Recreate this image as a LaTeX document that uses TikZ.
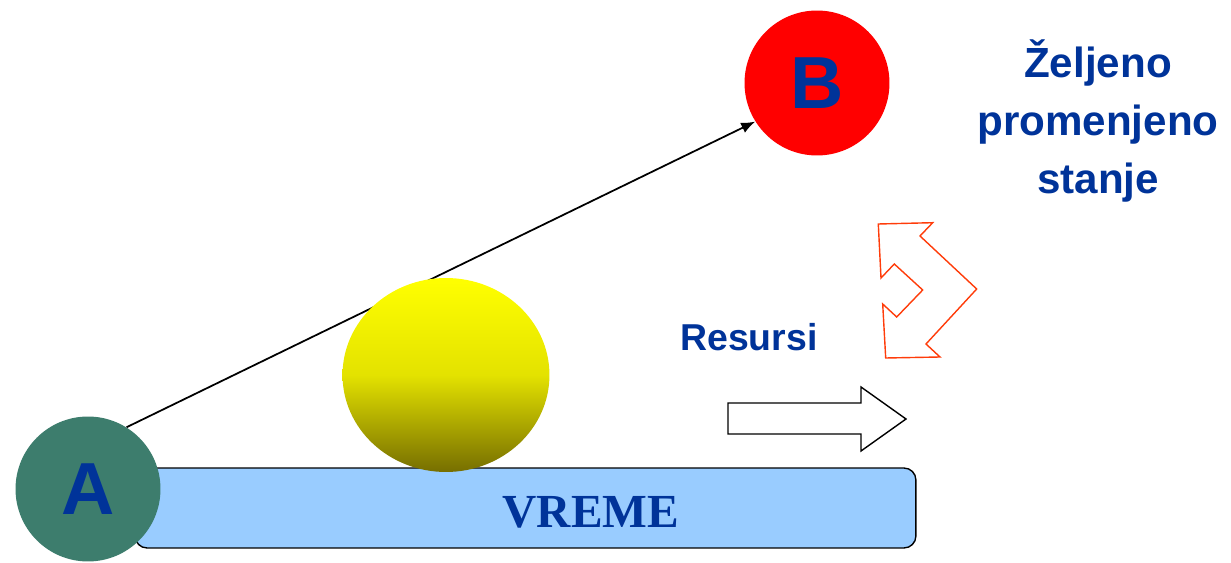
\documentclass[tikz,border=0pt]{standalone}
\usepackage{fontspec}
\setmainfont{Liberation Sans}
\newfontfamily\serifface{Liberation Serif}
\usetikzlibrary{shapes.geometric, arrows.meta}
\definecolor{txtblue}{RGB}{0,51,153}
\definecolor{stategreen}{RGB}{61,125,109}
\definecolor{timeblue}{RGB}{153,204,255}
\definecolor{turnred}{RGB}{255,60,10}
\definecolor{ballolive}{RGB}{118,110,0}
\begin{document}
\begin{tikzpicture}[x=0.02cm, y=-0.02cm]
    \useasboundingbox (0,0) rectangle (1231,563);
    % Time bar
    \node[rectangle, draw=black, fill=timeblue, line width=0.8pt, rounded corners=0.24cm, minimum width=15.62cm, minimum height=1.6cm] (vreme) at (525.5,508) {};
    \node[font=\serifface\bfseries\fontsize{27}{30}\selectfont, text=txtblue] (vremetxt) at (591,512) {VREME};
    
    % States
    \node[circle, fill=stategreen, minimum size=2.9cm, inner sep=0pt, font=\bfseries\fontsize{42}{44}\selectfont, text=txtblue] (A) at (88,489) {A};
    \node[circle, fill=red, minimum size=2.9cm, inner sep=0pt, font=\bfseries\fontsize{42}{44}\selectfont, text=txtblue] (B) at (817,83) {B};
    
    % Path from A to B
    \draw[-{Latex[length=2.8mm, width=2.2mm]}, line width=1pt, black] (A.58) -- (B.212);
    
    % Resources ball
    \node[ellipse, top color=yellow, bottom color=ballolive, middle color={yellow!80!ballolive}, minimum width=4.14cm, minimum height=3.88cm] (ball) at (446,375) {};
    
    % Labels
    \node[font=\bfseries\fontsize{21.3}{24}\selectfont, text=txtblue] (resursi) at (749,337) {Resursi};
    \node[font=\bfseries\fontsize{24}{32.9}\selectfont, text=txtblue, align=center] (stanje) at (1098,121) {Željeno\\promenjeno\\stanje};
    
    % Block arrows
    \draw[black, line width=0.8pt] (728,403) -- (861,403) -- (861,387) -- (906,419) -- (861,451) -- (861,434) -- (728,434) -- cycle;
    \draw[turnred, line width=0.8pt] (878.3,224) -- (932.7,222.7) -- (920,236) -- (976.7,289) -- (926,344) -- (940,357) -- (885.7,358) -- (882.7,304) -- (896.7,317) -- (922.7,290) -- (894.3,264) -- (881,278) -- cycle;
\end{tikzpicture}
\end{document}
